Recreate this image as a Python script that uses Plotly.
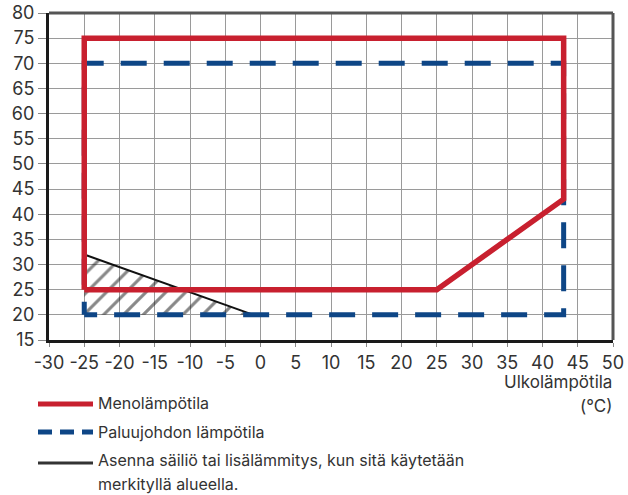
import plotly.graph_objects as go

# Operating envelope (outdoor temp °C, water temp °C)
flow_x = [-25, -25, 43, 43, 25, -25]
flow_y = [25, 75, 75, 43, 25, 25]

return_x = [-25, -25, 43, 43, -25]
return_y = [20, 70, 70, 20, 20]

zone_x = [-25, -1, -25, -25]
zone_y = [32, 20, 20, 32]

x_ticks = list(range(-30, 55, 5))
y_ticks = list(range(15, 85, 5))

RED = "#C8202F"
BLUE = "#0E4686"
INK = "#111111"
FONT = "Inter"
TXT = "#333333"

fig = go.Figure()

# Hatched zone where a tank or extra heater is needed
fig.add_trace(go.Scatter(
    x=zone_x, y=zone_y, mode="lines", fill="toself",
    fillcolor="rgba(255,255,255,0)",
    fillpattern=dict(shape="/", fgcolor=INK, bgcolor="rgba(255,255,255,0)",
                     size=14, solidity=0.22),
    line=dict(width=0), hoverinfo="skip", showlegend=False,
))
# Its sloped boundary
fig.add_trace(go.Scatter(
    x=zone_x[:2], y=zone_y[:2], mode="lines",
    line=dict(color=INK, width=2), hoverinfo="skip", showlegend=False,
))

# Return line temperature (dash phase set so a dash sits on the corner)
fig.add_trace(go.Scatter(
    x=return_x, y=return_y, mode="lines",
    line=dict(color=BLUE, width=5, dash="13px,17px,26px,17px,13px,0px"),
    showlegend=False,
))

# Flow temperature
fig.add_trace(go.Scatter(
    x=flow_x, y=flow_y, mode="lines",
    line=dict(color=RED, width=5.5),
    showlegend=False,
))

fig.update_xaxes(
    range=[-30, 50], tickvals=x_ticks, ticktext=[str(v) for v in x_ticks],
    showgrid=True, gridcolor="#9a9a9a", gridwidth=1,
    showline=True, linecolor="#1a1a1a", linewidth=3,
    ticks="outside", ticklen=4, tickcolor="#888888",
    tickfont=dict(family=FONT, size=18, color=TXT), zeroline=False,
    automargin=False,
)
fig.update_yaxes(
    range=[15, 80], tickvals=y_ticks,
    showgrid=True, gridcolor="#9a9a9a", gridwidth=1,
    showline=True, linecolor="#1a1a1a", linewidth=3,
    ticks="outside", ticklen=8, tickcolor="#888888",
    tickfont=dict(family=FONT, size=18, color=TXT), zeroline=False,
    automargin=False,
)

shapes = [
    # top and right frame
    dict(type="line", xref="paper", yref="paper", x0=0, x1=1, y0=1, y1=1,
         line=dict(color="#555555", width=3)),
    dict(type="line", xref="paper", yref="paper", x0=1, x1=1, y0=0, y1=1,
         line=dict(color="#555555", width=3)),
]

# Legend drawn below the chart
W, H = 628, 495
ml, mr, mt, mb = 49, 15, 13, 155
pw, ph = W - ml - mr, H - mt - mb

def px(x):
    return (x - ml) / pw

def py(y):
    return (H - mb - y) / ph

shapes += [
    dict(type="line", xref="paper", yref="paper", x0=px(38), x1=px(93), y0=py(404), y1=py(404),
         line=dict(color=RED, width=5)),
    dict(type="line", xref="paper", yref="paper", x0=px(38), x1=px(93), y0=py(432), y1=py(432),
         line=dict(color=BLUE, width=5, dash="14px,8px")),
    dict(type="line", xref="paper", yref="paper", x0=px(38), x1=px(93), y0=py(463), y1=py(463),
         line=dict(color="#333333", width=3)),
]

annotations = [
    dict(text="Menolämpötila", x=px(96), y=py(403)),
    dict(text="Paluujohdon lämpötila", x=px(96), y=py(432)),
    dict(text="Asenna säiliö tai lisälämmitys, kun sitä käytetään", x=px(96), y=py(460)),
    dict(text="merkityllä alueella.", x=px(96), y=py(484)),
]
annotations = [dict(a, xref="paper", yref="paper", xanchor="left", yanchor="middle",
                    showarrow=False, font=dict(family=FONT, size=16, color=TXT))
               for a in annotations]
annotations += [
    dict(text="Ulkolämpötila", x=px(614), y=py(382), xref="paper", yref="paper",
         xanchor="right", yanchor="middle", showarrow=False,
         font=dict(family=FONT, size=17, color=TXT)),
    dict(text="(°C)", x=px(614), y=py(406), xref="paper", yref="paper",
         xanchor="right", yanchor="middle", showarrow=False,
         font=dict(family=FONT, size=17, color=TXT)),
]

fig.update_layout(
    width=W, height=H,
    margin=dict(l=ml, r=mr, t=mt, b=mb),
    paper_bgcolor="white", plot_bgcolor="white",
    shapes=shapes, annotations=annotations,
    showlegend=False,
)

fig.write_html("out.html", post_script="document.body.style.margin='0';")
